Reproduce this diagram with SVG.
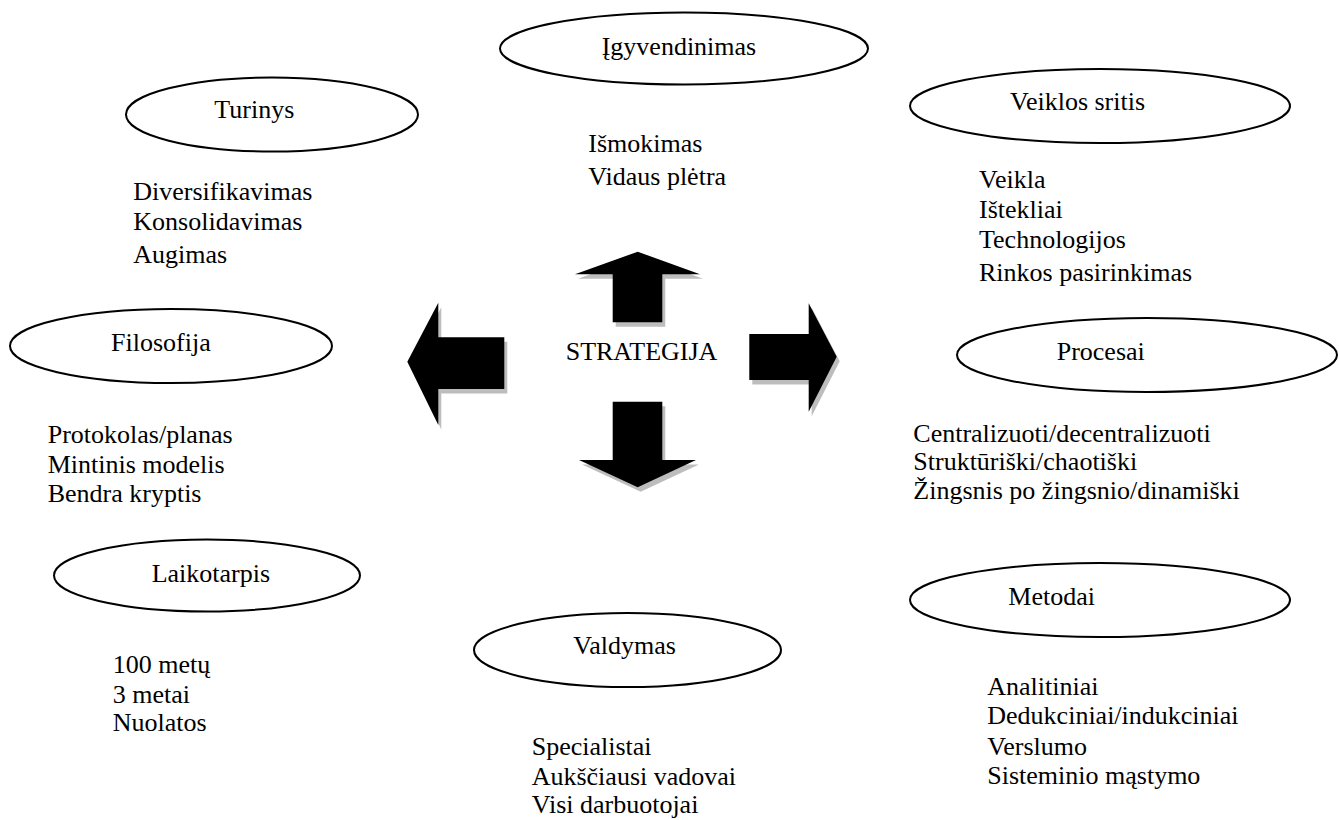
<svg xmlns="http://www.w3.org/2000/svg" width="1339" height="820" viewBox="0 0 1339 820">
  <style>
    text { font-family: "Liberation Serif", "Times New Roman", serif; font-size: 26px; fill: #000; }
    .oval { fill: #fff; stroke: #000; stroke-width: 2; }
    .arrow { fill: #000; }
    .shadow { fill: #bdbdbd; }
  </style>
  <defs>
    <polygon id="arrow-up" points="637.7,251.7 700,274.3 662.3,274.3 662.3,322.3 612.7,322.3 612.7,274.3 575,274.3"/>
    <polygon id="arrow-down" points="612.7,401.7 662.3,401.7 662.3,460 696,460 637.7,487.3 579,460 612.7,460"/>
    <polygon id="arrow-left" points="407.3,361.7 438.3,302.7 438.3,337.3 504.3,337.3 504.3,389 438.3,389 438.3,425"/>
    <polygon id="arrow-right" points="749.3,334 808.7,334 808.7,303.3 836.7,356.7 808.7,411.7 808.7,380 749.3,380"/>
  </defs>
  <rect width="1339" height="820" fill="#fff"/>

  <!-- block arrows radiating from the centre, each with a soft drop shadow -->
  <g id="connectors">
    <g transform="translate(3,4.5)" class="shadow">
      <use href="#arrow-up"/>
      <use href="#arrow-down"/>
      <use href="#arrow-left"/>
      <use href="#arrow-right"/>
    </g>
    <g class="arrow">
      <use href="#arrow-up"/>
      <use href="#arrow-down"/>
      <use href="#arrow-left"/>
      <use href="#arrow-right"/>
    </g>
  </g>

  <g id="strategija">
    <text x="565.7" y="360">STRATEGIJA</text>
  </g>

  <g id="igyvendinimas">
    <ellipse class="oval" cx="684" cy="48.5" rx="184" ry="36"/>
    <text x="601.7" y="55">Įgyvendinimas</text>
    <text x="588.3" y="152">Išmokimas</text>
    <text x="588.3" y="185">Vidaus plėtra</text>
  </g>

  <g id="turinys">
    <ellipse class="oval" cx="272" cy="114.5" rx="146" ry="37"/>
    <text x="214.3" y="118.3">Turinys</text>
    <text x="133.3" y="200">Diversifikavimas</text>
    <text x="133.3" y="230">Konsolidavimas</text>
    <text x="133.3" y="263">Augimas</text>
  </g>

  <g id="veiklos-sritis">
    <ellipse class="oval" cx="1100" cy="106" rx="190" ry="37"/>
    <text x="1010" y="110">Veiklos sritis</text>
    <text x="979" y="188.3">Veikla</text>
    <text x="979" y="218.3">Ištekliai</text>
    <text x="979" y="247.7">Technologijos</text>
    <text x="979" y="281">Rinkos pasirinkimas</text>
  </g>

  <g id="filosofija">
    <ellipse class="oval" cx="171" cy="346" rx="161" ry="37"/>
    <text x="111" y="350.7">Filosofija</text>
    <text x="47.7" y="443.3">Protokolas/planas</text>
    <text x="47.7" y="473.3">Mintinis modelis</text>
    <text x="47.7" y="501.7">Bendra kryptis</text>
  </g>

  <g id="procesai">
    <ellipse class="oval" cx="1147" cy="355" rx="190" ry="37"/>
    <text x="1056.7" y="360">Procesai</text>
    <text x="913.3" y="441.7">Centralizuoti/decentralizuoti</text>
    <text x="913.3" y="470">Struktūriški/chaotiški</text>
    <text x="913.3" y="499">Žingsnis po žingsnio/dinamiški</text>
  </g>

  <g id="laikotarpis">
    <ellipse class="oval" cx="207" cy="575.5" rx="153" ry="36"/>
    <text x="151.7" y="581.7">Laikotarpis</text>
    <text x="112.7" y="673.3">100 metų</text>
    <text x="112.7" y="703">3 metai</text>
    <text x="112.7" y="731">Nuolatos</text>
  </g>

  <g id="valdymas">
    <ellipse class="oval" cx="627.5" cy="650" rx="153.5" ry="37"/>
    <text x="573.3" y="654.3">Valdymas</text>
    <text x="531.7" y="755">Specialistai</text>
    <text x="531.7" y="785">Aukščiausi vadovai</text>
    <text x="531.7" y="813.3">Visi darbuotojai</text>
  </g>

  <g id="metodai">
    <ellipse class="oval" cx="1100" cy="600" rx="190" ry="37"/>
    <text x="1008.3" y="605">Metodai</text>
    <text x="987.3" y="695">Analitiniai</text>
    <text x="987.3" y="724">Dedukciniai/indukciniai</text>
    <text x="987.3" y="755">Verslumo</text>
    <text x="987.3" y="784">Sisteminio mąstymo</text>
  </g>
</svg>
